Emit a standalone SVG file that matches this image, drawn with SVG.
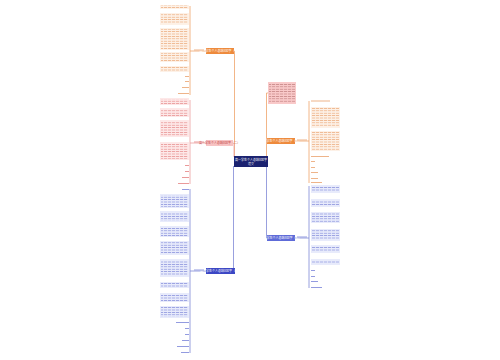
<svg xmlns="http://www.w3.org/2000/svg" width="500" height="360" viewBox="0 0 500 360">
<defs>
<pattern id="tO" width="4" height="2.4" patternUnits="userSpaceOnUse"><rect width="3.2" height="0.8" fill="#eeb48a"/></pattern>
<pattern id="tP" width="4" height="2.4" patternUnits="userSpaceOnUse"><rect width="3.2" height="0.8" fill="#ea9a9a"/></pattern>
<pattern id="tB" width="4" height="2.4" patternUnits="userSpaceOnUse"><rect width="3.2" height="0.8" fill="#939be0"/></pattern>
<pattern id="tW" width="4" height="2.4" patternUnits="userSpaceOnUse"><rect width="3.2" height="0.8" fill="#c98a8a"/></pattern>
</defs>
<style>
.bo{fill:#fdf1e7}
.bp{fill:#fde8e8}
.bb{fill:#e8ebfb}
.lo{stroke:#efa36a;stroke-width:0.8;fill:none}
.lp{stroke:#eba0a0;stroke-width:0.8;fill:none}
.lb{stroke:#7f88d6;stroke-width:0.8;fill:none}
.t{font-family:"Noto Sans CJK SC","Liberation Sans",sans-serif;font-size:3px}
.sO{fill:#eeb48a}
.sP{fill:#ea9a9a}
.sB{fill:#939be0}
</style>
<rect width="500" height="360" fill="#ffffff"/>

<g id="connectors">
<path class="lo" d="M234.5 157 V51 H234"/>
<path class="lp" d="M234 157 V143"/>
<path class="lb" d="M233.5 166 V271"/>
<path class="lo" d="M266.5 157 V93 H268"/>
<path class="lo" d="M266.5 141 H268"/>
<path class="lb" d="M266.5 166 V238 H268"/>
<path class="lo" d="M190 51 H206"/>
<path class="lp" d="M190 143 H206"/>
<path class="lb" d="M190 271 H206"/>
<path class="lo" d="M295 141 H309"/>
<path class="lb" d="M295 238 H309"/>
<path class="lo" d="M190 6 V95"/>
<path class="lp" d="M190 100 V184"/>
<path class="lb" d="M190 189 V353"/>
<path class="lo" d="M309 101 V183"/>
<path class="lb" d="M309 186 V288"/>
</g>

<g id="center">
<rect x="234" y="156" width="34" height="11" fill="#1b2270"/>
<text class="t" x="251" y="160.8" text-anchor="middle" fill="#ffffff">高一学生个人总结800字</text>
<text class="t" x="251" y="165" text-anchor="middle" fill="#ffffff">范文</text>
</g>

<g id="intro">
<rect x="268" y="82" width="28" height="22" fill="#f9c9c9"/>
<rect x="269" y="83" width="26" height="20" fill="url(#tW)"/>
</g>

<g id="branch-left-1">
<rect x="206" y="48" width="28" height="6" fill="#ee8a3c"/>
<text class="t" x="220" y="52" text-anchor="middle" fill="#ffffff">高一学生个人总结800字（一）</text>
<rect x="194" y="49.5" width="10" height="1" class="sO"/>
<rect x="160" y="5" width="29" height="4" class="bo"/><rect x="161" y="5.5" width="27" height="3" fill="url(#tO)"/>
<rect x="160" y="13" width="29" height="12" class="bo"/><rect x="161" y="14" width="27" height="10" fill="url(#tO)"/>
<rect x="160" y="28" width="29" height="22" class="bo"/><rect x="161" y="29" width="27" height="20" fill="url(#tO)"/>
<rect x="160" y="52" width="29" height="10" class="bo"/><rect x="161" y="53" width="27" height="8" fill="url(#tO)"/>
<rect x="160" y="66" width="29" height="6" class="bo"/><rect x="161" y="67" width="27" height="4" fill="url(#tO)"/>
<rect x="185" y="76" width="4" height="1" class="sO"/>
<rect x="185" y="81" width="4" height="1" class="sO"/>
<rect x="182" y="87" width="7" height="1" class="sO"/>
<rect x="178" y="93" width="11" height="1" class="sO"/>
</g>

<g id="branch-left-2">
<rect x="206" y="140" width="27" height="6" fill="#f7c3c3"/>
<text class="t" x="219.5" y="144" text-anchor="middle" fill="#c24040">高一学生个人总结800字（二）</text>
<rect x="194" y="141.5" width="10" height="1" class="sP"/>
<rect x="160" y="98" width="29" height="7" class="bp"/><rect x="161" y="99" width="27" height="5" fill="url(#tP)"/>
<rect x="160" y="108" width="29" height="9" class="bp"/><rect x="161" y="109" width="27" height="7" fill="url(#tP)"/>
<rect x="160" y="120" width="29" height="17" class="bp"/><rect x="161" y="121" width="27" height="15" fill="url(#tP)"/>
<rect x="160" y="142" width="29" height="18" class="bp"/><rect x="161" y="143" width="27" height="16" fill="url(#tP)"/>
<rect x="185" y="165" width="4" height="1" class="sP"/>
<rect x="185" y="171" width="4" height="1" class="sP"/>
<rect x="182" y="177" width="7" height="1" class="sP"/>
<rect x="178" y="183" width="11" height="1" class="sP"/>
</g>

<g id="branch-left-3">
<rect x="206" y="268" width="29" height="6" fill="#3b46c4"/>
<text class="t" x="220.5" y="272" text-anchor="middle" fill="#ffffff">高一学生个人总结800字（四）</text>
<rect x="194" y="269.5" width="10" height="1" class="sB"/>
<rect x="182" y="189" width="7" height="1" class="sB"/>
<rect x="160" y="194" width="29" height="14" class="bb"/><rect x="161" y="195" width="27" height="12" fill="url(#tB)"/>
<rect x="160" y="211" width="29" height="11" class="bb"/><rect x="161" y="212" width="27" height="9" fill="url(#tB)"/>
<rect x="160" y="226" width="29" height="11" class="bb"/><rect x="161" y="227" width="27" height="9" fill="url(#tB)"/>
<rect x="160" y="241" width="29" height="14" class="bb"/><rect x="161" y="242" width="27" height="12" fill="url(#tB)"/>
<rect x="160" y="259" width="29" height="18" class="bb"/><rect x="161" y="260" width="27" height="16" fill="url(#tB)"/>
<rect x="160" y="282" width="29" height="6" class="bb"/><rect x="161" y="283" width="27" height="4" fill="url(#tB)"/>
<rect x="160" y="293" width="29" height="9" class="bb"/><rect x="161" y="294" width="27" height="7" fill="url(#tB)"/>
<rect x="160" y="306" width="29" height="12" class="bb"/><rect x="161" y="307" width="27" height="10" fill="url(#tB)"/>
<rect x="176" y="322" width="13" height="1" class="sB"/>
<rect x="185" y="328" width="4" height="1" class="sB"/>
<rect x="185" y="334" width="4" height="1" class="sB"/>
<rect x="182" y="340" width="7" height="1" class="sB"/>
<rect x="177" y="346" width="12" height="1" class="sB"/>
<rect x="181" y="352" width="8" height="1" class="sB"/>
</g>

<g id="branch-right-1">
<rect x="267" y="138" width="28" height="6" fill="#ee8a3c"/>
<text class="t" x="281" y="142" text-anchor="middle" fill="#ffffff">高一学生个人总结800字（三）</text>
<rect x="297" y="139.5" width="10" height="1" class="sO"/>
<rect x="311" y="100.5" width="19" height="1" class="sO"/>
<rect x="311" y="107" width="29" height="21" class="bo"/><rect x="312" y="108" width="27" height="19" fill="url(#tO)"/>
<rect x="311" y="131" width="29" height="20" class="bo"/><rect x="312" y="132" width="27" height="18" fill="url(#tO)"/>
<rect x="311" y="156" width="18" height="1" class="sO"/>
<rect x="311" y="161" width="4" height="1" class="sO"/>
<rect x="311" y="167" width="4" height="1" class="sO"/>
<rect x="311" y="172" width="7" height="1" class="sO"/>
<rect x="311" y="178" width="7" height="1" class="sO"/>
<rect x="311" y="182" width="11" height="1" class="sO"/>
</g>

<g id="branch-right-2">
<rect x="267" y="235" width="28" height="6" fill="#5e6bd8"/>
<text class="t" x="281" y="239" text-anchor="middle" fill="#ffffff">高一学生个人总结800字（五）</text>
<rect x="297" y="236.5" width="10" height="1" class="sB"/>
<rect x="311" y="185" width="29" height="8" class="bb"/><rect x="312" y="186" width="27" height="6" fill="url(#tB)"/>
<rect x="311" y="199" width="29" height="8" class="bb"/><rect x="312" y="200" width="27" height="6" fill="url(#tB)"/>
<rect x="311" y="212" width="29" height="11" class="bb"/><rect x="312" y="213" width="27" height="9" fill="url(#tB)"/>
<rect x="311" y="229" width="29" height="12" class="bb"/><rect x="312" y="230" width="27" height="10" fill="url(#tB)"/>
<rect x="311" y="245" width="29" height="8" class="bb"/><rect x="312" y="246" width="27" height="6" fill="url(#tB)"/>
<rect x="311" y="259" width="29" height="6" class="bb"/><rect x="312" y="260" width="27" height="4" fill="url(#tB)"/>
<rect x="311" y="270" width="4" height="1" class="sB"/>
<rect x="311" y="276" width="4" height="1" class="sB"/>
<rect x="311" y="281" width="7" height="1" class="sB"/>
<rect x="311" y="287" width="11" height="1" class="sB"/>
</g>
</svg>
